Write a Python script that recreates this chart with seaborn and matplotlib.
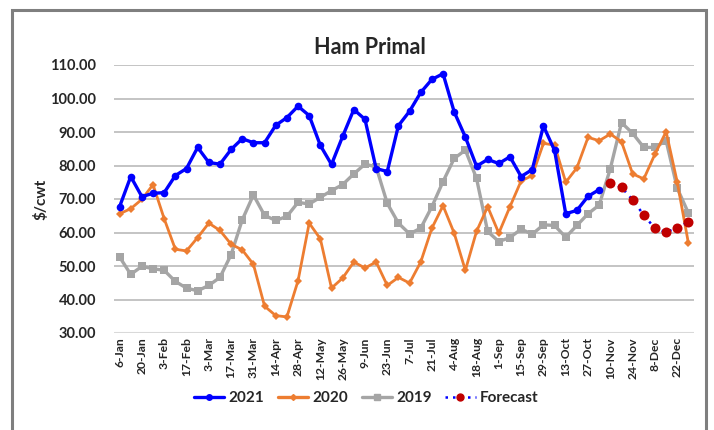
import matplotlib
matplotlib.use("Agg")
import matplotlib.pyplot as plt
from matplotlib.patches import Rectangle
from matplotlib.lines import Line2D
import seaborn as sns
import numpy as np
import pandas as pd

# Weekly ham primal values, $/cwt (52 weeks, week 1 = 6-Jan)
week_labels = ["6-Jan", "20-Jan", "3-Feb", "17-Feb", "3-Mar", "17-Mar", "31-Mar",
               "14-Apr", "28-Apr", "12-May", "26-May", "9-Jun", "23-Jun", "7-Jul",
               "21-Jul", "4-Aug", "18-Aug", "1-Sep", "15-Sep", "29-Sep", "13-Oct",
               "27-Oct", "10-Nov", "24-Nov", "8-Dec", "22-Dec"]

y2021 = [67.7, 76.7, 70.7, 71.7, 71.9, 77.0, 79.1, 85.4, 80.9, 80.4, 84.8, 88.0,
         86.8, 86.8, 92.0, 94.3, 97.7, 94.9, 86.0, 80.3, 88.7, 96.7, 93.8, 79.1,
         78.2, 91.9, 96.2, 101.8, 105.7, 107.4, 96.0, 88.5, 79.8, 81.8, 80.6, 82.6,
         76.7, 78.8, 91.8, 84.5, 65.6, 66.6, 70.8, 72.8]

y2020 = [65.6, 67.1, 69.9, 74.3, 64.1, 55.0, 54.5, 58.5, 62.8, 60.6, 56.5, 54.8,
         50.5, 38.0, 35.2, 34.8, 45.6, 62.8, 58.1, 43.4, 46.4, 51.2, 49.4, 51.2,
         44.2, 46.6, 44.9, 51.2, 61.3, 68.0, 59.8, 48.7, 60.3, 67.7, 59.8, 67.7,
         75.4, 77.0, 86.6, 86.1, 75.0, 79.3, 88.4, 87.4, 89.4, 87.1, 77.5, 76.0,
         83.4, 90.1, 75.0, 56.8]

y2019 = [52.7, 47.5, 49.9, 49.2, 48.7, 45.4, 43.4, 42.6, 44.2, 46.6, 53.4, 63.8,
         71.2, 65.1, 63.6, 64.8, 69.0, 68.5, 70.5, 72.5, 74.3, 77.5, 80.4, 79.6,
         68.7, 62.8, 59.6, 61.3, 67.7, 75.2, 82.1, 84.6, 76.2, 60.3, 57.3, 58.5,
         61.0, 59.5, 62.3, 62.1, 58.6, 62.1, 65.6, 68.2, 79.1, 92.8, 89.6, 85.4,
         85.4, 87.4, 73.2, 65.8]

forecast_start = 44
forecast = [74.7, 73.5, 69.7, 65.2, 61.2, 60.1, 61.4, 63.1]

sns.set_theme(style="white")
plt.rcParams["font.family"] = ["Lato", "DejaVu Sans"]
plt.rcParams["font.weight"] = "bold"

fig = plt.figure(figsize=(7.14, 4.30), dpi=100)
ax = fig.add_axes([114 / 714, 1 - 333 / 430, 580 / 714, 268 / 430])

df2021 = pd.DataFrame({"week": np.arange(len(y2021)), "value": y2021})
df2020 = pd.DataFrame({"week": np.arange(len(y2020)), "value": y2020})
df2019 = pd.DataFrame({"week": np.arange(len(y2019)), "value": y2019})
dffc = pd.DataFrame({"week": np.arange(forecast_start, forecast_start + len(forecast)),
                     "value": forecast})

c21, c20, c19 = "#0000FF", "#ED7D31", "#A5A5A5"
cfc = "#C00000"

sns.lineplot(data=df2019, x="week", y="value", ax=ax, color=c19, lw=2.4,
             marker="s", markersize=5.5, markeredgewidth=0, zorder=3)
sns.lineplot(data=df2020, x="week", y="value", ax=ax, color=c20, lw=2.0,
             marker="D", markersize=4, markeredgewidth=0, zorder=4)
sns.lineplot(data=df2021, x="week", y="value", ax=ax, color=c21, lw=2.4,
             marker="o", markersize=5.5, markeredgewidth=0, zorder=5)
sns.lineplot(data=dffc, x="week", y="value", ax=ax, color=c21, lw=1.8,
             linestyle=(0, (1, 2.2)), zorder=6)
ax.scatter(dffc["week"], dffc["value"], s=52, color=cfc, zorder=7, linewidths=0)

ax.set_xlim(-0.5, 51.5)
ax.set_ylim(30, 110)
ax.set_yticks(np.arange(30, 111, 10))
ax.set_yticklabels([f"{v:.2f}" for v in np.arange(30, 111, 10)], fontsize=10.5,
                   fontweight="bold")
ax.set_xticks(np.arange(0, 52, 2))
ax.set_xticklabels(week_labels, rotation=90, fontsize=8.7, fontweight="bold")
ax.tick_params(axis="both", length=0, pad=3)
ax.tick_params(axis="y", pad=13)

for v in np.arange(40, 111, 10):
    ax.axhline(v, color="#B4B4B4", lw=1.1, zorder=1)
ax.axhline(30, color="#D9D9D9", lw=2.2, zorder=1)
for s in ax.spines.values():
    s.set_visible(False)

ax.set_xlabel("")
ax.set_ylabel("$/cwt", fontsize=11, fontweight="bold", labelpad=1)
fig.text(370 / 714, 1 - 47 / 430, "Ham Primal", ha="center", va="center",
         fontsize=15.5, fontweight="bold")

handles = [
    Line2D([], [], color=c21, lw=2.4, marker="o", markersize=4),
    Line2D([], [], color=c20, lw=2.4, marker="D", markersize=3),
    Line2D([], [], color=c19, lw=2.4, marker="s", markersize=4),
    Line2D([], [], color=c21, lw=1.8, linestyle=(0, (1, 2)), marker="o",
           markersize=5, markerfacecolor=cfc, markeredgecolor=cfc),
]
fig.legend(handles, ["2021", "2020", "2019", "Forecast"], loc="center",
           bbox_to_anchor=(366 / 714, 1 - 398 / 430), ncol=4, frameon=False,
           prop={"size": 11, "weight": "bold"}, handlelength=2.0,
           handletextpad=0.25, columnspacing=0.9)

fig.add_artist(Rectangle((12 / 714, -0.1), 694 / 714, 1 - 10 / 430 + 0.1,
                         transform=fig.transFigure, fill=False,
                         edgecolor="#7F7F7F", lw=2.2))

fig.savefig("out.png", dpi=100)
